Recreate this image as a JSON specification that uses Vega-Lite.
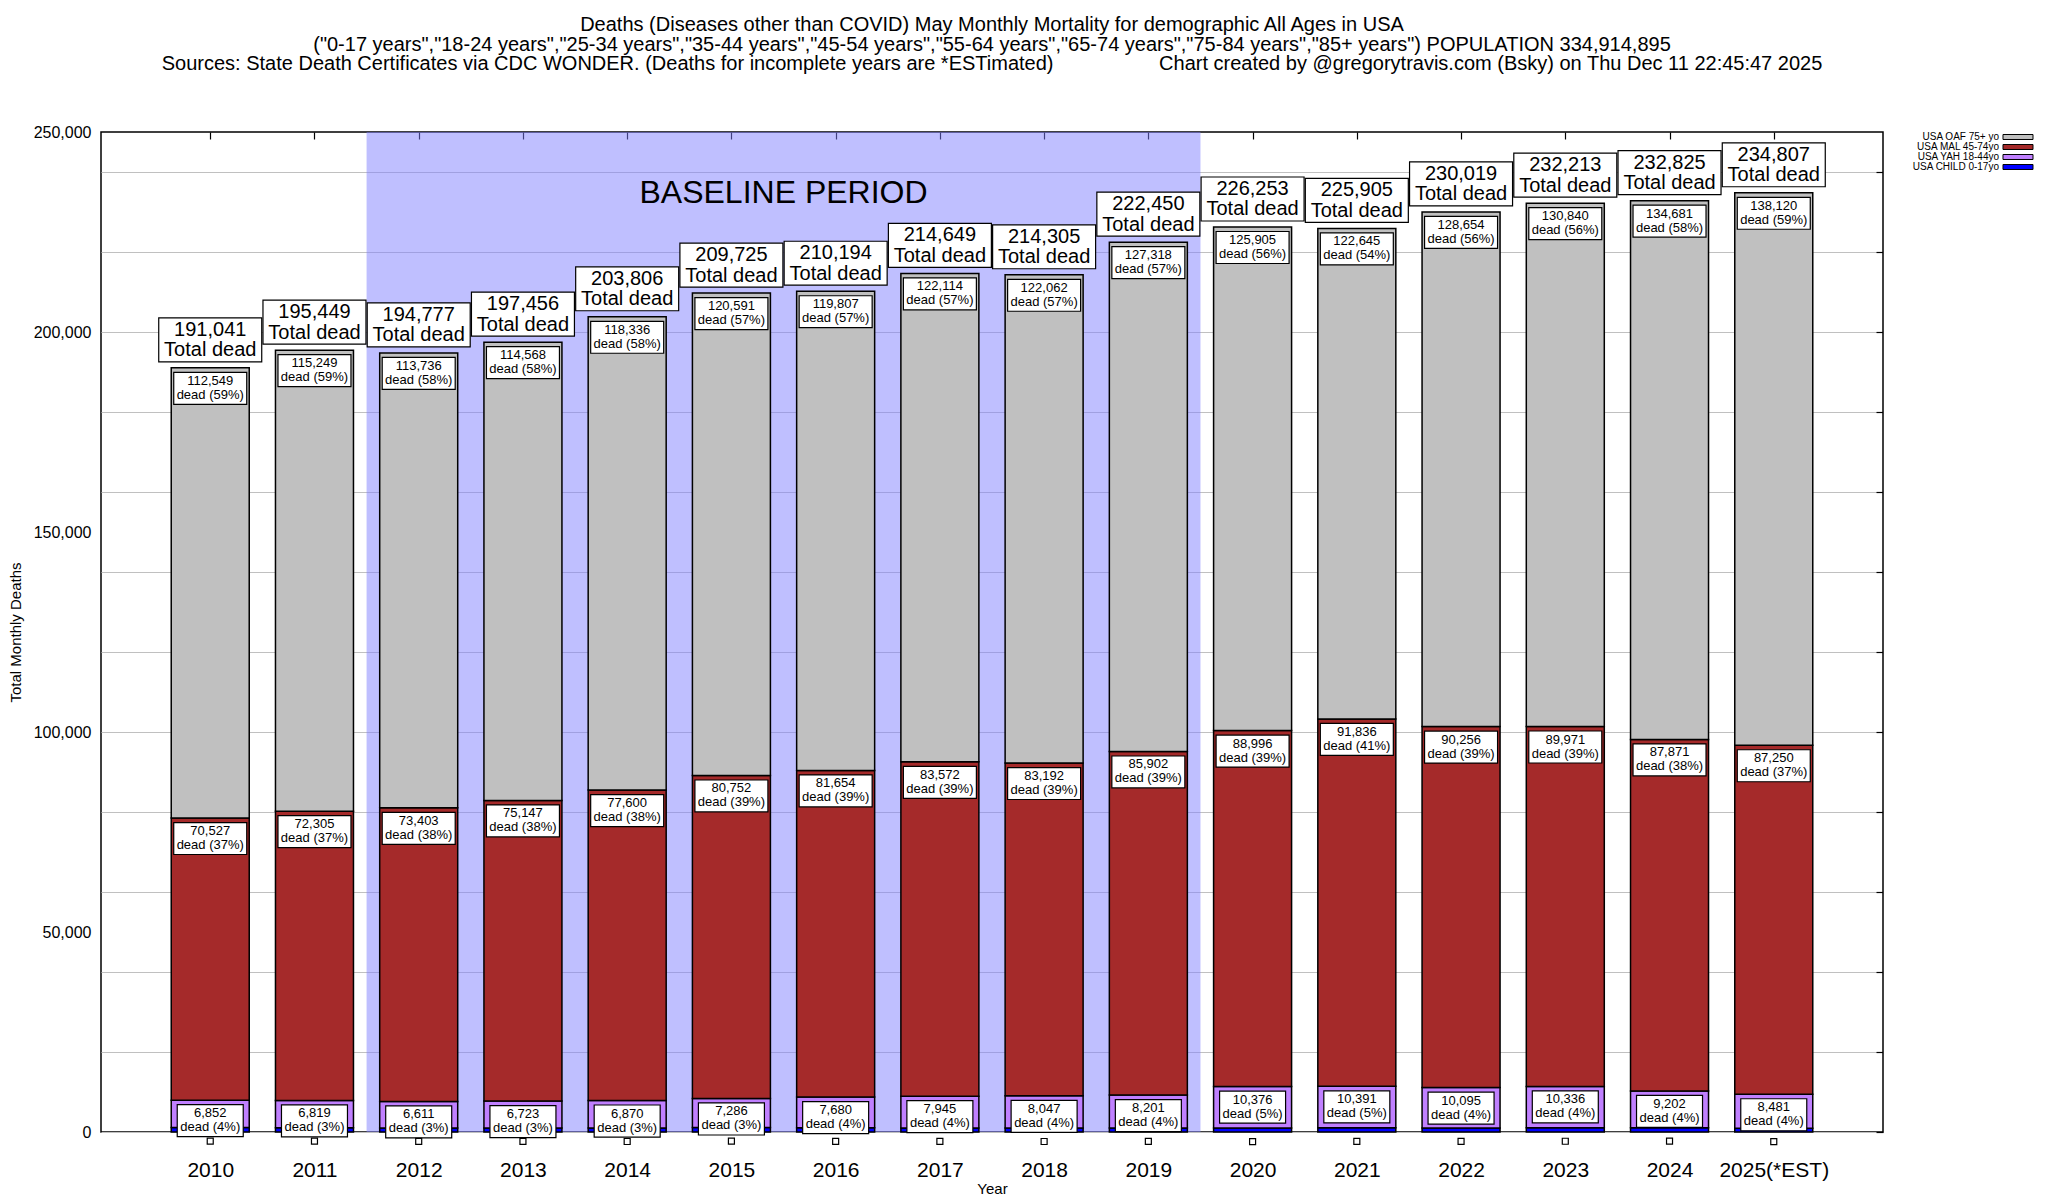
{
  "$schema": "https://vega.github.io/schema/vega-lite/v6.json",
  "width": 1782,
  "height": 1000,
  "autosize": "none",
  "padding": {"left": 101, "top": 132, "right": 165, "bottom": 68},
  "background": "white",
  "config": {
    "font": "Liberation Sans",
    "view": {"stroke": "black", "strokeWidth": 1.5},
    "axis": {"labelFont": "Liberation Sans", "titleFont": "Liberation Sans", "labelColor": "black", "titleColor": "black", "titleFontWeight": "normal", "domain": false, "labelOverlap": false}
  },
  "title": {
    "text": [
      "Deaths (Diseases other than COVID) May Monthly Mortality for demographic All Ages in USA",
      "(\"0-17 years\",\"18-24 years\",\"25-34 years\",\"35-44 years\",\"45-54 years\",\"55-64 years\",\"65-74 years\",\"75-84 years\",\"85+ years\") POPULATION 334,914,895",
      "Sources: State Death Certificates via CDC WONDER. (Deaths for incomplete years are *ESTimated)\u00a0\u00a0\u00a0\u00a0\u00a0\u00a0\u00a0\u00a0\u00a0\u00a0\u00a0\u00a0\u00a0\u00a0\u00a0\u00a0\u00a0\u00a0\u00a0Chart created by @gregorytravis.com (Bsky) on Thu Dec 11 22:45:47 2025"
    ],
    "fontSize": 20,
    "font": "Liberation Sans",
    "fontWeight": "normal",
    "lineHeight": 19.5,
    "anchor": "middle",
    "frame": "group",
    "offset": 50,
    "color": "black"
  },
  "datasets": {
    "base": [{"start": 2011.5, "end": 2019.5}],
    "tot": [
      {"year": 2010, "total": 191041}, {"year": 2011, "total": 195449}, {"year": 2012, "total": 194777}, {"year": 2013, "total": 197456},
      {"year": 2014, "total": 203806}, {"year": 2015, "total": 209725}, {"year": 2016, "total": 210194}, {"year": 2017, "total": 214649},
      {"year": 2018, "total": 214305}, {"year": 2019, "total": 222450}, {"year": 2020, "total": 226253}, {"year": 2021, "total": 225905},
      {"year": 2022, "total": 230019}, {"year": 2023, "total": 232213}, {"year": 2024, "total": 232825}, {"year": 2025, "total": 234807}
    ],
    "seg": [
      {"year": 2010, "group": "USA CHILD 0-17yo", "ord": 1, "deaths": 1113},
      {"year": 2010, "group": "USA YAH 18-44yo", "ord": 2, "deaths": 6852, "pct": 4},
      {"year": 2010, "group": "USA MAL 45-74yo", "ord": 3, "deaths": 70527, "pct": 37},
      {"year": 2010, "group": "USA OAF 75+ yo", "ord": 4, "deaths": 112549, "pct": 59},
      {"year": 2011, "group": "USA CHILD 0-17yo", "ord": 1, "deaths": 1076},
      {"year": 2011, "group": "USA YAH 18-44yo", "ord": 2, "deaths": 6819, "pct": 3},
      {"year": 2011, "group": "USA MAL 45-74yo", "ord": 3, "deaths": 72305, "pct": 37},
      {"year": 2011, "group": "USA OAF 75+ yo", "ord": 4, "deaths": 115249, "pct": 59},
      {"year": 2012, "group": "USA CHILD 0-17yo", "ord": 1, "deaths": 1027},
      {"year": 2012, "group": "USA YAH 18-44yo", "ord": 2, "deaths": 6611, "pct": 3},
      {"year": 2012, "group": "USA MAL 45-74yo", "ord": 3, "deaths": 73403, "pct": 38},
      {"year": 2012, "group": "USA OAF 75+ yo", "ord": 4, "deaths": 113736, "pct": 58},
      {"year": 2013, "group": "USA CHILD 0-17yo", "ord": 1, "deaths": 1018},
      {"year": 2013, "group": "USA YAH 18-44yo", "ord": 2, "deaths": 6723, "pct": 3},
      {"year": 2013, "group": "USA MAL 45-74yo", "ord": 3, "deaths": 75147, "pct": 38},
      {"year": 2013, "group": "USA OAF 75+ yo", "ord": 4, "deaths": 114568, "pct": 58},
      {"year": 2014, "group": "USA CHILD 0-17yo", "ord": 1, "deaths": 1000},
      {"year": 2014, "group": "USA YAH 18-44yo", "ord": 2, "deaths": 6870, "pct": 3},
      {"year": 2014, "group": "USA MAL 45-74yo", "ord": 3, "deaths": 77600, "pct": 38},
      {"year": 2014, "group": "USA OAF 75+ yo", "ord": 4, "deaths": 118336, "pct": 58},
      {"year": 2015, "group": "USA CHILD 0-17yo", "ord": 1, "deaths": 1096},
      {"year": 2015, "group": "USA YAH 18-44yo", "ord": 2, "deaths": 7286, "pct": 3},
      {"year": 2015, "group": "USA MAL 45-74yo", "ord": 3, "deaths": 80752, "pct": 39},
      {"year": 2015, "group": "USA OAF 75+ yo", "ord": 4, "deaths": 120591, "pct": 57},
      {"year": 2016, "group": "USA CHILD 0-17yo", "ord": 1, "deaths": 1053},
      {"year": 2016, "group": "USA YAH 18-44yo", "ord": 2, "deaths": 7680, "pct": 4},
      {"year": 2016, "group": "USA MAL 45-74yo", "ord": 3, "deaths": 81654, "pct": 39},
      {"year": 2016, "group": "USA OAF 75+ yo", "ord": 4, "deaths": 119807, "pct": 57},
      {"year": 2017, "group": "USA CHILD 0-17yo", "ord": 1, "deaths": 1018},
      {"year": 2017, "group": "USA YAH 18-44yo", "ord": 2, "deaths": 7945, "pct": 4},
      {"year": 2017, "group": "USA MAL 45-74yo", "ord": 3, "deaths": 83572, "pct": 39},
      {"year": 2017, "group": "USA OAF 75+ yo", "ord": 4, "deaths": 122114, "pct": 57},
      {"year": 2018, "group": "USA CHILD 0-17yo", "ord": 1, "deaths": 1004},
      {"year": 2018, "group": "USA YAH 18-44yo", "ord": 2, "deaths": 8047, "pct": 4},
      {"year": 2018, "group": "USA MAL 45-74yo", "ord": 3, "deaths": 83192, "pct": 39},
      {"year": 2018, "group": "USA OAF 75+ yo", "ord": 4, "deaths": 122062, "pct": 57},
      {"year": 2019, "group": "USA CHILD 0-17yo", "ord": 1, "deaths": 1029},
      {"year": 2019, "group": "USA YAH 18-44yo", "ord": 2, "deaths": 8201, "pct": 4},
      {"year": 2019, "group": "USA MAL 45-74yo", "ord": 3, "deaths": 85902, "pct": 39},
      {"year": 2019, "group": "USA OAF 75+ yo", "ord": 4, "deaths": 127318, "pct": 57},
      {"year": 2020, "group": "USA CHILD 0-17yo", "ord": 1, "deaths": 976},
      {"year": 2020, "group": "USA YAH 18-44yo", "ord": 2, "deaths": 10376, "pct": 5},
      {"year": 2020, "group": "USA MAL 45-74yo", "ord": 3, "deaths": 88996, "pct": 39},
      {"year": 2020, "group": "USA OAF 75+ yo", "ord": 4, "deaths": 125905, "pct": 56},
      {"year": 2021, "group": "USA CHILD 0-17yo", "ord": 1, "deaths": 1033},
      {"year": 2021, "group": "USA YAH 18-44yo", "ord": 2, "deaths": 10391, "pct": 5},
      {"year": 2021, "group": "USA MAL 45-74yo", "ord": 3, "deaths": 91836, "pct": 41},
      {"year": 2021, "group": "USA OAF 75+ yo", "ord": 4, "deaths": 122645, "pct": 54},
      {"year": 2022, "group": "USA CHILD 0-17yo", "ord": 1, "deaths": 1014},
      {"year": 2022, "group": "USA YAH 18-44yo", "ord": 2, "deaths": 10095, "pct": 4},
      {"year": 2022, "group": "USA MAL 45-74yo", "ord": 3, "deaths": 90256, "pct": 39},
      {"year": 2022, "group": "USA OAF 75+ yo", "ord": 4, "deaths": 128654, "pct": 56},
      {"year": 2023, "group": "USA CHILD 0-17yo", "ord": 1, "deaths": 1066},
      {"year": 2023, "group": "USA YAH 18-44yo", "ord": 2, "deaths": 10336, "pct": 4},
      {"year": 2023, "group": "USA MAL 45-74yo", "ord": 3, "deaths": 89971, "pct": 39},
      {"year": 2023, "group": "USA OAF 75+ yo", "ord": 4, "deaths": 130840, "pct": 56},
      {"year": 2024, "group": "USA CHILD 0-17yo", "ord": 1, "deaths": 1071},
      {"year": 2024, "group": "USA YAH 18-44yo", "ord": 2, "deaths": 9202, "pct": 4},
      {"year": 2024, "group": "USA MAL 45-74yo", "ord": 3, "deaths": 87871, "pct": 38},
      {"year": 2024, "group": "USA OAF 75+ yo", "ord": 4, "deaths": 134681, "pct": 58},
      {"year": 2025, "group": "USA CHILD 0-17yo", "ord": 1, "deaths": 956},
      {"year": 2025, "group": "USA YAH 18-44yo", "ord": 2, "deaths": 8481, "pct": 4},
      {"year": 2025, "group": "USA MAL 45-74yo", "ord": 3, "deaths": 87250, "pct": 37},
      {"year": 2025, "group": "USA OAF 75+ yo", "ord": 4, "deaths": 138120, "pct": 59}
    ]
  },
  "layer": [
    {
      "data": {"name": "base"},
      "mark": {"type": "rect", "fill": "#8080ff", "opacity": 0.5},
      "encoding": {
        "x": {"field": "start", "type": "quantitative", "scale": {"domain": [2009, 2026], "nice": false, "zero": false}, "axis": null},
        "x2": {"field": "end"}
      }
    },
    {
      "data": {"name": "base"},
      "mark": {"type": "text", "text": "BASELINE PERIOD", "fontSize": 32, "font": "Liberation Sans", "baseline": "middle", "align": "center", "color": "black"},
      "encoding": {
        "x": {"datum": 2015.5, "type": "quantitative", "scale": {"domain": [2009, 2026], "nice": false, "zero": false}, "axis": null},
        "y": {"datum": 234750, "type": "quantitative", "scale": {"domain": [0, 250000], "nice": false}, "axis": null}
      }
    },
    {
      "data": {"name": "seg"},
      "transform": [{"stack": "deaths", "groupby": ["year"], "sort": [{"field": "ord", "order": "ascending"}], "as": ["y0", "y1"]}],
      "layer": [
        {
          "mark": {"type": "bar", "width": 78, "stroke": "black", "strokeWidth": 1.5},
          "encoding": {
            "x": {"field": "year", "type": "quantitative", "title": "Year", "scale": {"domain": [2009, 2026], "nice": false, "zero": false},
              "axis": {"orient": "bottom", "values": [2010, 2011, 2012, 2013, 2014, 2015, 2016, 2017, 2018, 2019, 2020, 2021, 2022, 2023, 2024, 2025], "labelExpr": "datum.value == 2025 ? '2025(*EST)' : '' + datum.value", "labelOverlap": false, "ticks": false, "grid": false, "labelFontSize": 21, "labelPadding": 27, "labelBaseline": "top", "titleFontSize": 15, "titleX": 891, "titleY": 56, "titleBaseline": "middle", "titleAlign": "center"}},
            "y": {"field": "y0", "type": "quantitative", "title": "Total Monthly Deaths", "scale": {"domain": [0, 250000], "nice": false},
              "axis": {"orient": "left", "values": [0, 50000, 100000, 150000, 200000, 250000], "labelExpr": "format(datum.value, ',')", "labelOverlap": false, "labelBound": false, "labelFlush": false, "grid": false, "ticks": false, "labelPadding": 10, "labelFontSize": 16, "titleFontSize": 15, "titleX": -86, "titleY": 500, "titleAngle": -90, "titleAlign": "center", "titleBaseline": "middle"}},
            "y2": {"field": "y1"},
            "color": {"field": "group", "type": "nominal",
              "scale": {"domain": ["USA OAF 75+ yo", "USA MAL 45-74yo", "USA YAH 18-44yo", "USA CHILD 0-17yo"], "range": ["#c0c0c0", "#a52a2a", "#c080ff", "#0000ff"]},
              "legend": {"title": null, "orient": "none", "legendX": 1912, "legendY": 0, "symbolType": "M-4.286,-0.714H4.286V0.714H-4.286Z", "symbolSize": 49, "symbolStrokeColor": "black", "symbolStrokeWidth": 1, "symbolOpacity": 1, "labelAlign": "right", "labelOffset": -24, "labelFontSize": 10, "labelFont": "Liberation Sans", "labelColor": "black", "labelBaseline": "middle", "rowPadding": 0, "padding": 0, "labelLimit": 400}}
          }
        },
        {
          "transform": [{"filter": "datum.ord >= 3"}],
          "mark": {"type": "point", "shape": "M-1,-0.438H1V0.438H-1Z", "size": 5329, "filled": true, "fill": "white", "stroke": "black", "strokeWidth": 1.2, "opacity": 1, "yOffset": 20.5},
          "encoding": {
            "x": {"field": "year", "type": "quantitative", "title": "Year"},
            "y": {"field": "y1", "type": "quantitative", "title": "Total Monthly Deaths"}
          }
        },
        {
          "transform": [{"filter": "datum.ord == 2"}],
          "mark": {"type": "point", "shape": "M-1,-0.485H1V0.485H-1Z", "size": 4356, "filled": true, "fill": "white", "stroke": "black", "strokeWidth": 1.2, "opacity": 1, "yOffset": 20.5},
          "encoding": {
            "x": {"field": "year", "type": "quantitative", "title": "Year"},
            "y": {"field": "y1", "type": "quantitative", "title": "Total Monthly Deaths"}
          }
        },
        {
          "transform": [{"filter": "datum.ord == 1"}],
          "mark": {"type": "point", "shape": "square", "size": 36, "filled": true, "fill": "white", "stroke": "black", "strokeWidth": 1.2, "opacity": 1, "yOffset": 13.5},
          "encoding": {
            "x": {"field": "year", "type": "quantitative", "title": "Year"},
            "y": {"field": "y1", "type": "quantitative", "title": "Total Monthly Deaths"}
          }
        },
        {
          "transform": [{"filter": "datum.ord >= 2"}],
          "mark": {"type": "text", "fontSize": 13, "font": "Liberation Sans", "baseline": "middle", "align": "center", "yOffset": 13, "color": "black"},
          "encoding": {
            "x": {"field": "year", "type": "quantitative", "title": "Year"},
            "y": {"field": "y1", "type": "quantitative", "title": "Total Monthly Deaths"},
            "text": {"field": "deaths", "type": "quantitative", "format": ","}
          }
        },
        {
          "transform": [{"filter": "datum.ord >= 2"}],
          "mark": {"type": "text", "fontSize": 13, "font": "Liberation Sans", "baseline": "middle", "align": "center", "yOffset": 27, "color": "black", "text": {"expr": "'dead (' + datum.pct + '%)'"}},
          "encoding": {
            "x": {"field": "year", "type": "quantitative", "title": "Year"},
            "y": {"field": "y1", "type": "quantitative", "title": "Total Monthly Deaths"}
          }
        }
      ]
    },
    {
      "data": {"name": "tot"},
      "layer": [
        {
          "mark": {"type": "point", "shape": "M-1,-0.427H1V0.427H-1Z", "size": 10609, "filled": true, "fill": "white", "stroke": "black", "strokeWidth": 1.2, "opacity": 1, "yOffset": -28},
          "encoding": {
            "x": {"field": "year", "type": "quantitative", "title": null, "scale": {"domain": [2009, 2026], "nice": false, "zero": false},
              "axis": {"orient": "top", "values": [2010, 2011, 2012, 2013, 2014, 2015, 2016, 2017, 2018, 2019, 2020, 2021, 2022, 2023, 2024, 2025], "labels": false, "ticks": true, "tickSize": -7, "tickColor": "black", "tickWidth": 1.2, "grid": false, "title": null}},
            "y": {"field": "total", "type": "quantitative", "title": null, "scale": {"domain": [0, 250000], "nice": false},
              "axis": {"orient": "right", "values": [0, 10000, 20000, 30000, 40000, 50000, 60000, 70000, 80000, 90000, 100000, 110000, 120000, 130000, 140000, 150000, 160000, 170000, 180000, 190000, 200000, 210000, 220000, 230000, 240000, 250000], "labels": false, "ticks": true, "tickSize": -7, "tickColor": "black", "tickWidth": 1.2, "grid": true, "gridColor": "#c0c0c0", "gridWidth": 1.2, "title": null}}
          }
        },
        {
          "mark": {"type": "text", "fontSize": 20, "font": "Liberation Sans", "baseline": "middle", "align": "center", "yOffset": -38, "color": "black"},
          "encoding": {
            "x": {"field": "year", "type": "quantitative", "title": null},
            "y": {"field": "total", "type": "quantitative", "title": null},
            "text": {"field": "total", "type": "quantitative", "format": ","}
          }
        },
        {
          "mark": {"type": "text", "fontSize": 20, "font": "Liberation Sans", "baseline": "middle", "align": "center", "yOffset": -17.5, "color": "black", "text": "Total dead"},
          "encoding": {
            "x": {"field": "year", "type": "quantitative", "title": null},
            "y": {"field": "total", "type": "quantitative", "title": null}
          }
        }
      ]
    }
  ],
  "resolve": {"axis": {"x": "independent", "y": "independent"}}
}
